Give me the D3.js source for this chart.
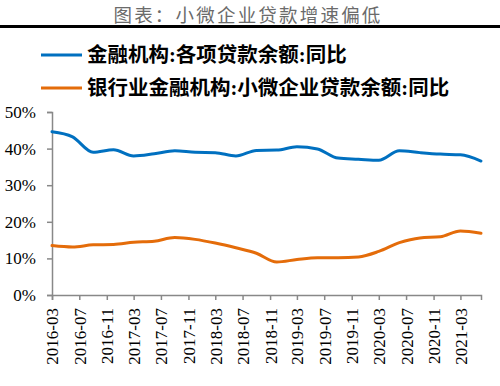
<!DOCTYPE html>
<html>
<head>
<meta charset="utf-8">
<script src="https://cdn.jsdelivr.net/npm/d3@7"></script>
<style>
  body { margin: 0; background: #fff; }
</style>
</head>
<body>
<svg width="500" height="386"></svg>
<script>
// quarterly data, 2016-03 .. 2021-06
const months = d3.range(22).map(i => d3.timeMonth.offset(new Date(2016, 2, 1), i * 3));
const allLoans = [44.6, 43.2, 39.0, 39.7, 38.0, 38.6, 39.4, 39.0, 38.9, 38.0, 39.5,
                  39.6, 40.5, 39.9, 37.4, 37.1, 36.8, 39.4, 38.9, 38.5, 38.3, 36.6];
const smallLoans = [13.5, 13.1, 13.7, 13.8, 14.4, 14.7, 15.7, 15.2, 14.2, 12.9, 11.4,
                    9.0, 9.7, 10.2, 10.2, 10.4, 11.9, 14.3, 15.6, 15.9, 17.5, 16.9];
const seriesNames = ['金融机构:各项贷款余额:同比', '银行业金融机构:小微企业贷款余额:同比'];
const colors = ['#0070C0', '#E46C0A'];
const yTicks = [0, 10, 20, 30, 40, 50];
const xTickLabels = ['2016-03','2016-07','2016-11','2017-03','2017-07','2017-11','2018-03',
  '2018-07','2018-11','2019-03','2019-07','2019-11','2020-03','2020-07','2020-11','2021-03'];

const svg = d3.select('svg');
const margin = { top: 112, left: 52, right: 19, bottom: 91 };
const width = +svg.attr('width');
const height = +svg.attr('height');

// title
svg.append('text')
   .attr('x', 248).attr('y', 21.5)
   .attr('text-anchor', 'middle')
   .attr('font-family', '"Noto Sans CJK SC", sans-serif')
   .attr('font-size', 18.5)
   .attr('letter-spacing', 2.2)
   .attr('fill', '#6b6b6b')
   .text('图表：小微企业贷款增速偏低');
svg.append('rect').attr('x', 0).attr('y', 25).attr('width', width).attr('height', 3).attr('fill', '#000');

// legend
seriesNames.forEach((name, i) => {
    const y = 55 + i * 33;
    svg.append('line')
       .attr('x1', 41).attr('x2', 82).attr('y1', y).attr('y2', y)
       .attr('stroke', colors[i]).attr('stroke-width', 3);
    svg.append('text')
       .attr('x', 87).attr('y', y).attr('dy', '0.36em')
       .attr('font-family', '"Liberation Serif", "Noto Sans CJK SC", serif')
       .attr('font-weight', 'bold')
       .attr('font-size', 20.5)
       .attr('fill', '#000')
       .text(name);
});

const xScale = d3.scaleTime()
    .domain([months[0], months[months.length - 1]])
    .range([margin.left, width - margin.right]);
const yScale = d3.scaleLinear()
    .domain([0, 50])
    .range([height - margin.bottom, margin.top]);

const axisColor = '#888';

// y axis
const yAxis = d3.axisLeft(yScale).tickValues(yTicks).tickSize(5).tickFormat(d => d + '%');
const gy = svg.append('g').attr('transform', `translate(${margin.left},0)`).call(yAxis);
gy.select('.domain').attr('stroke', axisColor).attr('stroke-width', 1.5);
gy.selectAll('.tick line').attr('stroke', axisColor).attr('stroke-width', 1.5);
gy.selectAll('.tick text')
  .attr('x', -16)
  .attr('font-family', '"Liberation Serif", serif')
  .attr('font-size', 17)
  .attr('fill', '#000');

// x axis
const tickDates = xTickLabels.map(s => d3.timeParse('%Y-%m')(s));
const xAxis = d3.axisBottom(xScale).tickValues(tickDates).tickSize(5).tickFormat(d3.timeFormat('%Y-%m'));
const gx = svg.append('g').attr('transform', `translate(0,${height - margin.bottom})`).call(xAxis);
gx.select('.domain').attr('stroke', axisColor).attr('stroke-width', 1.5);
gx.selectAll('.tick line').attr('stroke', axisColor).attr('stroke-width', 1.5);
gx.selectAll('.tick text')
  .attr('transform', 'rotate(-90)')
  .attr('text-anchor', 'end')
  .attr('x', -13).attr('y', 0).attr('dy', '0.35em')
  .attr('font-family', '"Liberation Serif", serif')
  .attr('font-size', 17)
  .attr('fill', '#000');

// lines
const line = d3.line()
    .x((d, i) => xScale(months[i]))
    .y(d => yScale(d))
    .curve(d3.curveMonotoneX);

[allLoans, smallLoans].forEach((data, i) => {
    svg.append('path')
       .datum(data)
       .attr('d', line)
       .attr('fill', 'none')
       .attr('stroke', colors[i])
       .attr('stroke-width', 3)
       .attr('stroke-linecap', 'round');
});
</script>
</body>
</html>
